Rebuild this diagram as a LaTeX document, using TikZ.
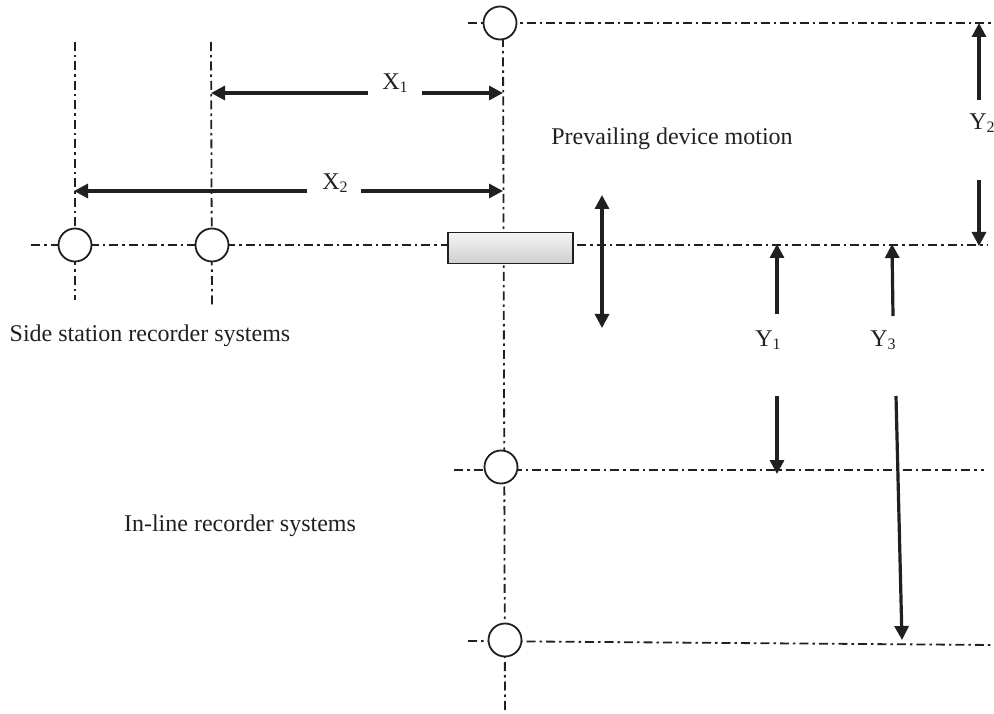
\documentclass[tikz,border=0pt]{standalone}
\usepackage{fontspec}
\setmainfont{Liberation Serif}
\usetikzlibrary{arrows.meta}
\definecolor{ink}{HTML}{231F20}
\newcommand{\sub}[1]{\raisebox{-0.28ex}{\fontsize{16}{16}\selectfont #1}}
\begin{document}
\begin{tikzpicture}[x=1pt,y=-1pt,
  axisline/.style={draw=ink,line width=1.8pt,dash pattern=on 9pt off 4pt on 2.5pt off 4pt},
  station/.style={circle,draw=ink,fill=white,line width=1.8pt,minimum size=33pt,inner sep=0pt},
  dimarrow/.style={draw=ink,line width=3.2pt,-{Triangle[length=14pt,width=14pt]}},
  dimboth/.style={draw=ink,line width=3.2pt,{Triangle[length=14pt,width=14pt]}-{Triangle[length=14pt,width=14pt]}},
  lbl/.style={font=\fontsize{24}{28}\selectfont,text=ink,inner sep=0pt},
  devicebox/.style={draw=ink,line width=1.4pt,top color=gray!8,bottom color=gray!38,minimum width=125pt,minimum height=31pt,inner sep=0pt},
]
\useasboundingbox (0,0) rectangle (994,714);

% axis lines
\coordinate (topL) at (468,23);
\coordinate (topR) at (994,23);
\coordinate (vTop) at (503,38);
\coordinate (vBot) at (505,714);
\coordinate (hL) at (31,245);
\coordinate (hR) at (988,245);
\coordinate (s1T) at (75,42);
\coordinate (s1B) at (75,300);
\coordinate (s2T) at (211,42);
\coordinate (s2B) at (212,307);
\coordinate (m1L) at (454,470);
\coordinate (m1R) at (984,470);
\coordinate (m2L) at (468,641);
\coordinate (m2R) at (994,645);

\draw[axisline] (topL) -- (topR);
\draw[axisline] (vTop) -- (vBot);
\draw[axisline] (hL) -- (hR);
\draw[axisline] (s1T) -- (s1B);
\draw[axisline] (s2T) -- (s2B);
\draw[axisline] (m1L) -- (m1R);
\draw[axisline] (m2L) -- (m2R);

% stations
\node[station] (cTop) at (500,23) {};
\node[station] (cS1) at (75,245) {};
\node[station] (cS2) at (212,245) {};
\node[station] (cM1) at (501,467) {};
\node[station] (cM2) at (505,640) {};

% device
\node[devicebox] (device) at (510.5,248) {};

% X1
\coordinate (x1L) at (211,93);
\coordinate (x1R) at (503,93);
\coordinate (x1s) at (368,93);
\coordinate (x1e) at (422,93);
\node[lbl] (X1) at (395,83) {X\sub{1}};
\draw[dimarrow] (x1s) -- (x1L);
\draw[dimarrow] (x1e) -- (x1R);

% X2
\coordinate (x2L) at (74,191);
\coordinate (x2R) at (503,191);
\coordinate (x2s) at (307,191);
\coordinate (x2e) at (361,191);
\node[lbl] (X2) at (335,183) {X\sub{2}};
\draw[dimarrow] (x2s) -- (x2L);
\draw[dimarrow] (x2e) -- (x2R);

% prevailing motion
\node[lbl] (motion) at (672,139) {Prevailing device motion};
\coordinate (mvT) at (602,195);
\coordinate (mvB) at (602,328);
\draw[dimboth] (mvT) -- (mvB);

% Y2
\coordinate (y2a) at (979,100);
\coordinate (y2b) at (979,23);
\coordinate (y2c) at (979,180);
\coordinate (y2d) at (979,246);
\node[lbl] (Y2) at (982,123) {Y\sub{2}};
\draw[dimarrow] (y2a) -- (y2b);
\draw[dimarrow] (y2c) -- (y2d);

% Y1
\coordinate (y1a) at (777,314);
\coordinate (y1b) at (777,244);
\coordinate (y1c) at (777,396);
\coordinate (y1d) at (777,474);
\node[lbl] (Y1) at (768,340) {Y\sub{1}};
\draw[dimarrow] (y1a) -- (y1b);
\draw[dimarrow] (y1c) -- (y1d);

% Y3
\coordinate (y3a) at (893,316);
\coordinate (y3b) at (892,244);
\coordinate (y3c) at (896,396);
\coordinate (y3d) at (902,640);
\node[lbl] (Y3) at (883,340) {Y\sub{3}};
\draw[dimarrow] (y3a) -- (y3b);
\draw[dimarrow] (y3c) -- (y3d);

% captions
\node[lbl] (side) at (150,336) {Side station recorder systems};
\node[lbl] (inline) at (240,526) {In-line recorder systems};
\end{tikzpicture}
\end{document}
